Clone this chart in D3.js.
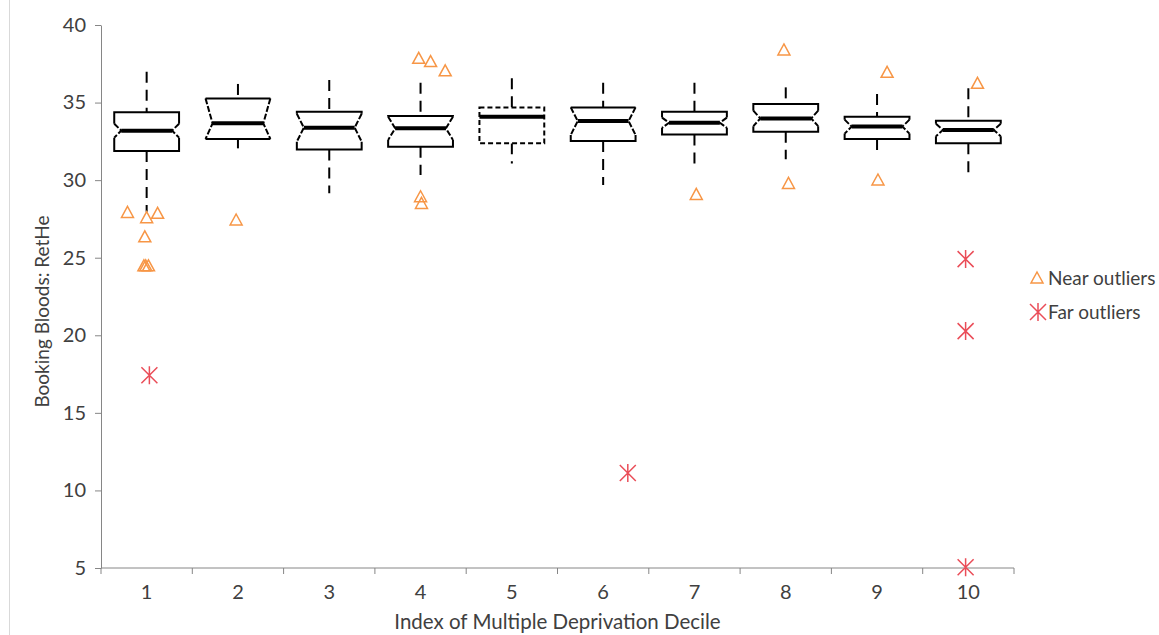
<!DOCTYPE html>
<html>
<head>
<meta charset="utf-8">
<script src="https://cdn.jsdelivr.net/npm/d3@7"></script>
<style>
  body { margin: 0; background: #fff; }
  svg text { font-family: Lato, "Open Sans", sans-serif; fill: #404040; }
  .axis path, .axis line { stroke: #868686; }
</style>
</head>
<body>
<div id="chart"></div>
<script>
// box plot summary per decile
const deciles = ["1", "2", "3", "4", "5", "6", "7", "8", "9", "10"]
const whiskerHigh = [36.99, 36.2, 36.45, 36.28, 36.56, 36.28, 36.28, 35.98, 35.55, 35.92]
const upperQuartile = [34.37, 35.27, 34.41, 34.13, 34.69, 34.69, 34.41, 34.91, 34.09, 33.83]
const medians = [33.19, 33.66, 33.38, 33.34, 34.09, 33.81, 33.7, 33.98, 33.45, 33.23]
const lowerQuartile = [31.88, 32.65, 31.98, 32.15, 32.37, 32.52, 32.95, 33.12, 32.65, 32.37]
const whiskerLow = [27.96, 32.05, 29.15, 30.33, 31.08, 29.68, 30.87, 31.34, 31.51, 30.33]
// notch half width (null = notch not drawn, box dashed)
const notchHalf = [0.45, 1.7, 0.9, 0.75, null, 0.9, 0.33, 0.5, 0.45, 0.4]

// outliers: decile, jitter (fraction of band), value
const nearOutliers = [
  ["1", -0.21, 27.92], ["1", 0.0, 27.58], ["1", 0.12, 27.86], ["1", -0.02, 26.35],
  ["1", -0.03, 24.48], ["1", -0.01, 24.48], ["1", 0.02, 24.48],
  ["2", -0.02, 27.43],
  ["4", -0.02, 37.85], ["4", 0.11, 37.64], ["4", 0.27, 37.05], ["4", 0.0, 28.93], ["4", 0.01, 28.5],
  ["7", 0.02, 29.08],
  ["8", -0.02, 38.39], ["8", 0.03, 29.79],
  ["9", 0.11, 36.95], ["9", 0.01, 30.01],
  ["10", 0.1, 36.24]
]
const farOutliers = [
  ["1", 0.03, 17.43],
  ["6", 0.27, 11.12],
  ["10", -0.03, 24.91], ["10", -0.03, 20.27], ["10", -0.03, 5.05]
]

const yTicks = [5, 10, 15, 20, 25, 30, 35, 40]

const width = 1159
const height = 635
const margin = { top: 25, right: 145, bottom: 67, left: 101 }
const boundedWidth = width - margin.left - margin.right
const boundedHeight = height - margin.top - margin.bottom

const orange = "#f79646"
const red = "#ea4d58"
const fontSize = "19px"
const tickFontSize = "20px"

const svg = d3.select("#chart").append("svg")
    .attr("width", width)
    .attr("height", height)

// faint outer border on the left
svg.append("line")
    .attr("x1", 9.5).attr("x2", 9.5)
    .attr("y1", 0).attr("y2", height)
    .attr("stroke", "#d9d9d9")

const bounds = svg.append("g")
    .attr("transform", `translate(${margin.left},${margin.top})`)

const xScale = d3.scaleBand()
    .domain(deciles)
    .range([0, boundedWidth])

const yScale = d3.scaleLinear()
    .domain([5, 40])
    .range([boundedHeight, 0])

// axes
const yAxis = bounds.append("g")
    .attr("class", "axis")
    .call(d3.axisLeft(yScale).tickValues(yTicks).tickSize(6).tickSizeOuter(0).tickPadding(9))
yAxis.selectAll("text").style("font-size", tickFontSize).style("font-family", "Lato, sans-serif").attr("fill", "#404040")

const xAxis = bounds.append("g")
    .attr("class", "axis")
    .attr("transform", `translate(0,${boundedHeight})`)
    .call(d3.axisBottom(xScale).tickSize(0).tickPadding(17))
xAxis.selectAll("text").style("font-size", tickFontSize).style("font-family", "Lato, sans-serif").attr("fill", "#404040")
xAxis.select(".domain").attr("d", `M0,0H${boundedWidth}`)
// category boundary ticks
xAxis.selectAll(".boundary")
  .data(deciles.concat(["end"]))
  .join("line")
    .attr("class", "boundary")
    .attr("x1", (d, i) => i * xScale.step())
    .attr("x2", (d, i) => i * xScale.step())
    .attr("y1", 0).attr("y2", 6)
    .attr("stroke", "#868686")

// axis titles
svg.append("text")
    .attr("transform", `translate(49,${margin.top + boundedHeight / 2 + 15}) rotate(-90)`)
    .attr("text-anchor", "middle")
    .style("font-size", fontSize)
    .text("Booking Bloods: RetHe")

svg.append("text")
    .attr("x", margin.left + boundedWidth / 2)
    .attr("y", 629)
    .attr("text-anchor", "middle")
    .style("font-size", "20.5px")
    .text("Index of Multiple Deprivation Decile")

// boxes
const boxWidth = xScale.step() * 0.71
const inset = 7

const boxes = deciles.map((d, i) => ({
  decile: d,
  hi: whiskerHigh[i], q3: upperQuartile[i], med: medians[i],
  q1: lowerQuartile[i], lo: whiskerLow[i], notch: notchHalf[i]
}))

const boxG = bounds.selectAll(".box")
  .data(boxes)
  .join("g")
    .attr("class", "box")
    .attr("transform", d => `translate(${xScale(d.decile) + xScale.step() / 2},0)`)

// whiskers
boxG.append("line")
    .attr("x1", 0).attr("x2", 0)
    .attr("y1", d => yScale(d.hi)).attr("y2", d => yScale(d.q3))
    .attr("stroke", "#000").attr("stroke-width", 2)
    .attr("stroke-dasharray", "11,7")
boxG.append("line")
    .attr("x1", 0).attr("x2", 0)
    .attr("y1", d => yScale(d.q1)).attr("y2", d => yScale(d.lo))
    .attr("stroke", "#000").attr("stroke-width", 2)
    .attr("stroke-dasharray", "11,7")

boxG.each(function (d) {
  const g = d3.select(this)
  const half = boxWidth / 2
  const yq3 = yScale(d.q3)
  const yq1 = yScale(d.q1)
  const ym = yScale(d.med)

  if (d.notch === null) {
    g.append("rect")
        .attr("x", -half).attr("y", yq3)
        .attr("width", boxWidth).attr("height", yq1 - yq3)
        .attr("fill", "#fff")
        .attr("stroke", "#000").attr("stroke-width", 2)
        .attr("stroke-dasharray", "5,3")
    g.append("line")
        .attr("x1", -half).attr("x2", half)
        .attr("y1", ym).attr("y2", ym)
        .attr("stroke", "#000").attr("stroke-width", 4)
    return
  }

  const yTop = yScale(Math.min(d.med + d.notch, d.q3))
  const yBot = yScale(Math.max(d.med - d.notch, d.q1))

  // fill shape
  const outline = [
    [-half, yq3], [half, yq3], [half, yTop], [half - inset, ym], [half, yBot],
    [half, yq1], [-half, yq1], [-half, yBot], [-half + inset, ym], [-half, yTop]
  ]
  g.append("path")
      .attr("d", d3.line()(outline) + "Z")
      .attr("fill", "#fff")
      .attr("stroke", "none")

  // solid parts
  const solid = d3.path()
  solid.moveTo(-half, yTop); solid.lineTo(-half, yq3); solid.lineTo(half, yq3); solid.lineTo(half, yTop)
  solid.moveTo(-half, yBot); solid.lineTo(-half, yq1); solid.lineTo(half, yq1); solid.lineTo(half, yBot)
  g.append("path")
      .attr("d", solid.toString())
      .attr("fill", "none")
      .attr("stroke", "#000").attr("stroke-width", 2)

  // notch slants
  const slant = d3.path()
  slant.moveTo(-half, yTop); slant.lineTo(-half + inset, ym); slant.lineTo(-half, yBot)
  slant.moveTo(half, yTop); slant.lineTo(half - inset, ym); slant.lineTo(half, yBot)
  g.append("path")
      .attr("d", slant.toString())
      .attr("fill", "none")
      .attr("stroke", "#000").attr("stroke-width", 2)
      .attr("stroke-dasharray", "6,2")

  g.append("line")
      .attr("x1", -half + inset).attr("x2", half - inset)
      .attr("y1", ym).attr("y2", ym)
      .attr("stroke", "#000").attr("stroke-width", 4)
})

// markers
const triangle = (g, x, y) => {
  g.append("path")
      .attr("d", `M${x},${y - 6}L${x + 6},${y + 5}L${x - 6},${y + 5}Z`)
      .attr("fill", "none")
      .attr("stroke", orange)
      .attr("stroke-width", 1.5)
}
const asterisk = (g, x, y) => {
  g.append("path")
      .attr("d", `M${x},${y - 9}V${y + 9}M${x - 8},${y - 8}L${x + 8},${y + 8}M${x + 8},${y - 8}L${x - 8},${y + 8}`)
      .attr("fill", "none")
      .attr("stroke", red)
      .attr("stroke-width", 1.5)
}

const markerG = bounds.append("g")
nearOutliers.forEach(([d, j, v]) => {
  triangle(markerG, xScale(d) + xScale.step() * (0.5 + j), yScale(v))
})
farOutliers.forEach(([d, j, v]) => {
  asterisk(markerG, xScale(d) + xScale.step() * (0.5 + j), yScale(v))
})

// legend
const legend = svg.append("g")
triangle(legend, 1037, 278)
legend.append("text")
    .attr("x", 1048).attr("y", 278).attr("dy", "0.35em")
    .style("font-size", fontSize)
    .text("Near outliers")
asterisk(legend, 1038, 312)
legend.append("text")
    .attr("x", 1048).attr("y", 312).attr("dy", "0.35em")
    .style("font-size", fontSize)
    .text("Far outliers")
</script>
</body>
</html>
